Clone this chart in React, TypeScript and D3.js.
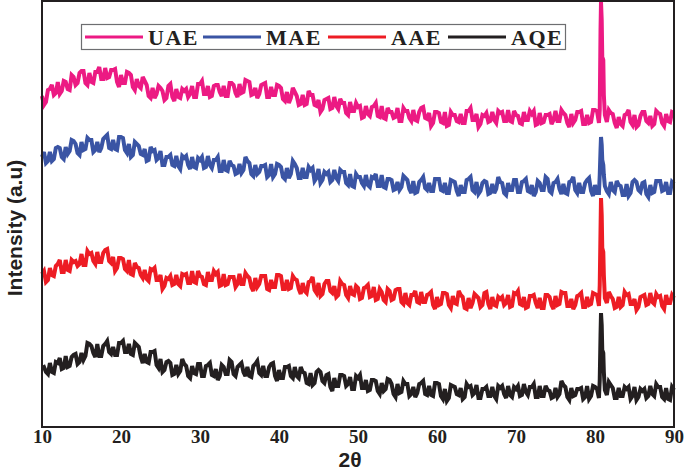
import React, { useEffect, useRef } from 'react';
import * as d3 from 'd3';

// 2theta grid, 0.25 deg steps from 10 to 90
const twoTheta = d3.range(321).map(i => 10 + i * 0.25);
// finer points around the sharp reflection near 80.8 deg
const peakTheta = [80.6, 80.7, 80.76, 80.85, 80.92, 81.05, 81.12, 81.25];
const xTicks = [10, 20, 30, 40, 50, 60, 70, 80, 90];

// intensities (a.u.), one row = 4 deg
const uae = [
  331, 322, 325, 337, 338, 342, 332, 334, 345, 333, 336, 346, 345, 338, 337, 352,
  350, 342, 344, 354, 356, 356, 344, 342, 354, 345, 344, 355, 355, 360, 348, 348,
  359, 349, 350, 357, 357, 358, 345, 340, 352, 344, 344, 355, 354, 352, 340, 337,
  348, 341, 339, 350, 346, 342, 331, 329, 339, 329, 333, 341, 339, 336, 327, 329,
  341, 343, 330, 326, 338, 330, 329, 338, 336, 338, 330, 333, 341, 330, 330, 343,
  343, 346, 333, 333, 341, 330, 331, 341, 342, 342, 335, 331, 341, 331, 331, 344,
  344, 342, 334, 330, 343, 334, 335, 347, 346, 345, 332, 333, 339, 329, 333, 342,
  343, 344, 330, 330, 340, 332, 332, 342, 341, 339, 328, 326, 335, 324, 329, 339,
  335, 331, 322, 323, 332, 322, 323, 336, 332, 332, 322, 321, 327, 315, 318, 327,
  328, 329, 318, 319, 330, 321, 318, 328, 324, 324, 314, 312, 325, 316, 316, 324,
  320, 321, 309, 310, 321, 313, 311, 320, 321, 324, 311, 310, 321, 309, 308, 319,
  315, 315, 309, 310, 319, 306, 306, 319, 316, 316, 309, 306, 317, 307, 306, 315,
  319, 320, 309, 308, 314, 301, 304, 315, 315, 314, 305, 304, 315, 301, 302, 315,
  312, 312, 306, 305, 313, 304, 304, 316, 316, 319, 307, 307, 313, 300, 303, 312,
  311, 314, 305, 306, 315, 307, 304, 316, 314, 315, 306, 306, 317, 306, 305, 316,
  312, 311, 304, 303, 315, 307, 307, 316, 313, 316, 302, 303, 314, 304, 305, 312,
  312, 313, 303, 307, 316, 306, 306, 317, 314, 312, 304, 300, 313, 304, 307, 315,
  315, 316, 303, 303, 312, 304, 305, 317, 317, 316, 304, 304, 312, 303, 305, 317,
  314, 313, 304, 299, 310, 303, 301, 312, 313, 317, 305, 302, 312, 300, 302, 311,
  315, 315, 306, 304, 311, 301, 303, 316, 314, 313, 304, 301, 313, 306, 305, 315,
  314
];
const uaePeak = [317, 397, 425, 407, 370, 367, 332, 312];

const mae = [
  270, 275, 264, 266, 275, 266, 268, 279, 280, 279, 270, 268, 280, 273, 276, 287,
  286, 283, 274, 272, 285, 277, 278, 289, 287, 287, 275, 277, 285, 275, 279, 288,
  290, 292, 279, 278, 287, 278, 277, 290, 290, 289, 277, 274, 283, 270, 272, 285,
  283, 281, 273, 272, 278, 266, 267, 280, 276, 277, 267, 269, 276, 262, 262, 270,
  270, 272, 262, 261, 271, 261, 258, 271, 269, 271, 262, 258, 270, 260, 259, 269,
  267, 270, 259, 260, 271, 262, 259, 267, 267, 270, 256, 256, 267, 257, 256, 266,
  262, 261, 253, 254, 263, 254, 257, 270, 266, 264, 253, 251, 262, 253, 255, 261,
  261, 262, 250, 252, 263, 250, 253, 263, 262, 260, 250, 248, 259, 249, 253, 266,
  263, 259, 249, 249, 259, 250, 250, 260, 257, 259, 246, 249, 258, 244, 247, 255,
  253, 255, 245, 247, 257, 249, 246, 257, 255, 255, 244, 242, 253, 241, 240, 253,
  250, 250, 244, 241, 252, 242, 240, 250, 249, 253, 241, 241, 252, 240, 239, 248,
  248, 247, 237, 238, 245, 237, 240, 251, 249, 247, 238, 234, 246, 234, 235, 245,
  247, 250, 239, 237, 244, 236, 236, 248, 248, 248, 237, 236, 244, 234, 234, 247,
  246, 245, 236, 231, 242, 235, 235, 247, 248, 250, 237, 235, 245, 233, 236, 244,
  246, 245, 233, 234, 243, 234, 238, 250, 245, 244, 234, 232, 244, 237, 237, 247,
  247, 235, 235, 245, 246, 248, 236, 235, 242, 231, 235, 246, 244, 237, 237, 250,
  248, 236, 234, 244, 245, 248, 238, 233, 243, 234, 233, 245, 246, 250, 237, 234,
  244, 235, 235, 244, 247, 249, 236, 231, 242, 234, 234, 245, 244, 245, 236, 233,
  245, 237, 235, 246, 242, 241, 232, 232, 243, 231, 234, 245, 247, 245, 237, 235,
  244, 245, 233, 230, 242, 234, 235, 246, 246, 246, 236, 237, 245, 234, 234, 245,
  243
];
const maePeak = [252, 277, 290, 282, 267, 262, 252, 241];

const aae = [
  153, 156, 145, 147, 159, 152, 151, 161, 163, 167, 155, 155, 167, 157, 156, 167,
  165, 166, 161, 163, 173, 162, 162, 176, 173, 174, 166, 163, 175, 165, 165, 174,
  177, 178, 166, 164, 170, 156, 159, 169, 169, 168, 158, 156, 167, 153, 152, 164,
  160, 159, 152, 149, 157, 148, 146, 158, 157, 159, 147, 147, 152, 138, 141, 149,
  148, 151, 142, 143, 152, 143, 141, 153, 152, 153, 144, 144, 156, 145, 144, 156,
  151, 150, 143, 142, 155, 147, 147, 156, 153, 155, 141, 142, 153, 142, 143, 150,
  150, 150, 140, 143, 153, 143, 143, 154, 151, 149, 140, 136, 149, 140, 143, 151,
  151, 151, 138, 137, 147, 140, 140, 152, 152, 151, 138, 138, 147, 138, 139, 151,
  148, 147, 138, 133, 144, 136, 134, 145, 146, 150, 137, 134, 144, 131, 133, 143,
  146, 146, 136, 134, 141, 130, 132, 146, 143, 142, 132, 129, 141, 133, 132, 141,
  139, 128, 129, 139, 140, 142, 130, 131, 140, 127, 128, 138, 135, 127, 125, 138,
  136, 127, 128, 137, 138, 138, 125, 123, 134, 124, 122, 132, 132, 136, 125, 124,
  135, 125, 125, 132, 133, 135, 122, 118, 130, 122, 123, 134, 134, 133, 122, 119,
  131, 124, 123, 136, 132, 130, 119, 118, 129, 119, 124, 133, 131, 129, 120, 122,
  134, 135, 123, 118, 130, 122, 121, 130, 128, 130, 122, 124, 132, 120, 121, 134,
  133, 136, 123, 122, 130, 119, 120, 131, 131, 132, 124, 119, 129, 119, 119, 132,
  132, 130, 122, 118, 131, 122, 123, 135, 134, 134, 121, 121, 128, 118, 122, 131,
  132, 134, 120, 120, 130, 122, 123, 134, 133, 132, 121, 119, 129, 118, 124, 135,
  131, 128, 119, 120, 130, 120, 122, 135, 132, 133, 123, 123, 128, 117, 120, 130,
  131, 132, 122, 123, 134, 125, 123, 133, 130, 131, 121, 118, 132, 124, 124, 132,
  129
];
const aaePeak = [142, 197, 229, 212, 179, 175, 152, 129];

const aqe = [
  59, 60, 55, 53, 64, 55, 54, 65, 64, 69, 58, 59, 71, 60, 61, 70,
  72, 73, 63, 65, 74, 67, 71, 84, 83, 81, 74, 70, 83, 71, 71, 81,
  83, 86, 75, 73, 80, 72, 72, 84, 84, 86, 75, 75, 83, 73, 72, 84,
  82, 80, 70, 64, 73, 65, 64, 75, 75, 76, 62, 59, 68, 55, 57, 65,
  66, 64, 52, 53, 62, 53, 56, 68, 63, 61, 51, 49, 61, 54, 53, 63,
  63, 51, 51, 61, 62, 64, 52, 51, 58, 47, 51, 62, 60, 53, 53, 67,
  65, 53, 51, 60, 62, 64, 55, 51, 60, 51, 50, 61, 63, 66, 54, 52,
  61, 51, 51, 60, 63, 64, 51, 46, 57, 49, 49, 60, 60, 61, 51, 49,
  60, 51, 49, 60, 55, 54, 44, 43, 54, 42, 44, 55, 57, 55, 46, 44,
  52, 53, 40, 36, 49, 41, 41, 52, 52, 51, 41, 43, 50, 38, 38, 51,
  49, 52, 39, 39, 47, 36, 37, 47, 47, 46, 36, 33, 44, 36, 38, 48,
  47, 43, 33, 30, 43, 34, 35, 46, 43, 43, 31, 33, 40, 30, 34, 43,
  44, 46, 33, 32, 41, 32, 31, 44, 44, 43, 31, 28, 38, 26, 29, 42,
  41, 40, 33, 32, 39, 28, 30, 43, 40, 41, 32, 34, 42, 29, 29, 38,
  38, 40, 31, 31, 40, 31, 28, 41, 39, 41, 33, 29, 41, 32, 30, 40,
  38, 41, 31, 32, 43, 35, 32, 40, 40, 43, 30, 30, 41, 31, 31, 41,
  37, 36, 29, 30, 39, 30, 33, 46, 42, 40, 30, 27, 39, 31, 32, 38,
  38, 39, 28, 30, 41, 28, 31, 41, 40, 38, 29, 27, 37, 27, 32, 45,
  42, 39, 29, 29, 39, 31, 31, 40, 38, 40, 28, 31, 40, 27, 30, 38,
  36, 38, 29, 31, 41, 33, 31, 43, 40, 40, 30, 28, 39, 28, 27, 40,
  37
];
const aqePeak = [47, 92, 114, 102, 77, 74, 55, 37];

const seriesNames = ['UAE', 'MAE', 'AAE', 'AQE'];
const seriesColors = ['#ec1a83', '#3a54a4', '#ed1c24', '#231f20'];
const seriesValues = [uae, mae, aae, aqe];
const seriesPeaks = [uaePeak, maePeak, aaePeak, aqePeak];

function buildSeries(values, peak) {
  const pts = twoTheta
    .map((t, i) => [t, values[i]])
    .filter(d => d[0] < 80.55 || d[0] > 81.3);
  peakTheta.forEach((t, i) => pts.push([t, peak[i]]));
  return pts.sort((a, b) => a[0] - b[0]);
}

const W = 685;
const H = 474;
const margin = { top: 1, right: 11, bottom: 47, left: 42 };

export default function App() {
  const ref = useRef(null);

  useEffect(() => {
    const svg = d3.select(ref.current);
    svg.selectAll('*').remove();

    const x = d3.scaleLinear().domain([10, 90]).range([margin.left, W - margin.right]);
    const y = d3.scaleLinear().domain([0, 426]).range([H - margin.bottom, margin.top]);

    const line = d3.line()
      .x(d => x(d[0]))
      .y(d => y(d[1]));

    // thick stroke so the scan noise reads as a filled band, like the print
    const plot = svg.append('g');
    seriesValues.forEach((vals, k) => {
      plot.append('path')
        .datum(buildSeries(vals, seriesPeaks[k]))
        .attr('fill', 'none')
        .attr('stroke', seriesColors[k])
        .attr('stroke-width', 4)
        .attr('stroke-linejoin', 'miter')
        .attr('stroke-miterlimit', 3)
        .attr('d', line);
    });

    // frame
    svg.append('rect')
      .attr('x', margin.left)
      .attr('y', margin.top)
      .attr('width', W - margin.right - margin.left)
      .attr('height', H - margin.bottom - margin.top)
      .attr('fill', 'none')
      .attr('stroke', '#231f20')
      .attr('stroke-width', 2);

    // x axis, labels only
    const xAxis = svg.append('g')
      .attr('transform', 'translate(0,' + (H - margin.bottom) + ')')
      .call(d3.axisBottom(x).tickValues(xTicks).tickSize(0).tickPadding(2));
    xAxis.select('.domain').remove();
    xAxis.selectAll('text')
      .attr('fill', '#231f20')
      .style('font-family', '"Liberation Serif", "Times New Roman", serif')
      .style('font-weight', 'bold')
      .style('font-size', '19px');

    svg.append('text')
      .attr('x', 350)
      .attr('y', 467)
      .attr('text-anchor', 'middle')
      .attr('fill', '#231f20')
      .style('font-family', '"Liberation Sans", Arial, sans-serif')
      .style('font-weight', 'bold')
      .style('font-size', '21px')
      .text('2θ');

    svg.append('text')
      .attr('transform', 'translate(22,228) rotate(-90)')
      .attr('text-anchor', 'middle')
      .attr('fill', '#231f20')
      .style('font-family', '"Liberation Sans", Arial, sans-serif')
      .style('font-weight', 'bold')
      .style('font-size', '21px')
      .text('Intensity (a.u)');

    // legend
    const legend = svg.append('g');
    legend.append('rect')
      .attr('x', 81.5)
      .attr('y', 24.5)
      .attr('width', 484)
      .attr('height', 25)
      .attr('fill', '#fff')
      .attr('stroke', '#6d6e71')
      .attr('stroke-width', 1.2);
    const itemX = [85, 203, 328, 448];
    seriesNames.forEach((name, k) => {
      legend.append('line')
        .attr('x1', itemX[k])
        .attr('x2', itemX[k] + 58)
        .attr('y1', 37)
        .attr('y2', 37)
        .attr('stroke', seriesColors[k])
        .attr('stroke-width', 3);
      legend.append('text')
        .attr('x', itemX[k] + 63)
        .attr('y', 45)
        .attr('fill', '#231f20')
        .style('font-family', '"Liberation Serif", "Times New Roman", serif')
        .style('font-weight', 'bold')
        .style('font-size', '22px')
        .style('letter-spacing', '1.5px')
        .text(name);
    });
  }, []);

  return (
    <div style={{ position: 'absolute', left: 0, top: 0 }}>
      <svg ref={ref} width={W} height={H} style={{ display: 'block', background: '#fff' }} />
    </div>
  );
}
